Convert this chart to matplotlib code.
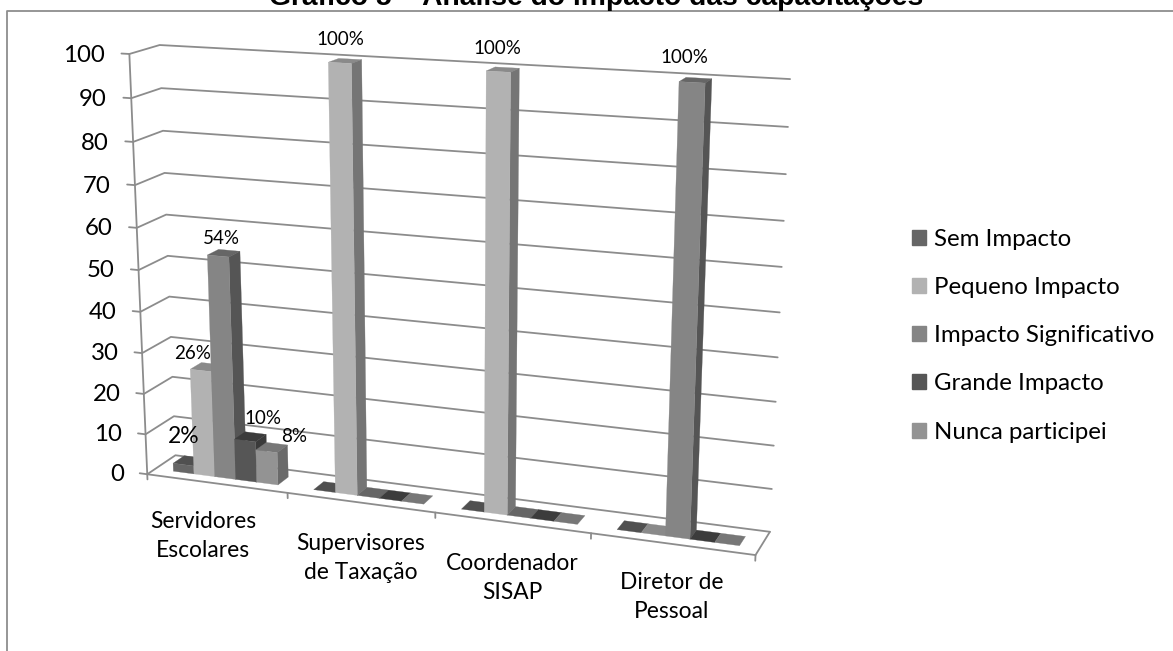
"""
Grafico 3D de colunas (Analise do impacto das capacitacoes).
The 3D axes use a camera matrix solved from the box corners of the reference.
"""

import numpy as np
import matplotlib
matplotlib.use('Agg')
import matplotlib.pyplot as plt
from matplotlib.patches import Patch
from matplotlib.lines import Line2D
from mpl_toolkits.mplot3d.art3d import Poly3DCollection

W, H = 1173, 651

# Data
categories = ['Servidores\nEscolares', 'Supervisores\nde Taxação', 'Coordenador\nSISAP', 'Diretor de\nPessoal']
series_names = ['Sem Impacto', 'Pequeno Impacto', 'Impacto Significativo', 'Grande Impacto', 'Nunca participei']
sem_impacto = [2, 0, 0, 0]
pequeno_impacto = [26, 100, 100, 0]
impacto_significativo = [54, 0, 0, 100]
grande_impacto = [10, 0, 0, 0]
nunca_participei = [8, 0, 0, 0]
series_values = [sem_impacto, pequeno_impacto, impacto_significativo, grande_impacto, nunca_participei]
y_ticks = list(range(0, 101, 10))

# Styles
front_colors = ['#666666', '#b2b2b2', '#858585', '#565656', '#939393']
side_colors = ['#555555', '#757575', '#555555', '#3a3a3a', '#6a6a6a']
top_colors = ['#505050', '#8a8a8a', '#666666', '#3c3c3c', '#777777']
line_color = '#8c8c8c'
font = ['Lato', 'DejaVu Sans']

# box corner (category pos, depth, value) -> pixel in the reference
camera_points = [
    ((0, 0, 0), (148, 473)),
    ((1, 0, 0), (287, 493)),
    ((2, 0, 0), (435, 513)),
    ((3, 0, 0), (592, 534)),
    ((4, 0, 0), (755, 555)),
    ((4, 1, 0), (770, 531)),
    ((0, 1, 0), (175, 456)),
    ((0, 0, 100), (129, 54)),
    ((0, 1, 100), (160, 45)),
    ((4, 1, 100), (790, 79)),
    ((4, 1, 90), (788, 127)),
]

# label offset from the top of its bar, in pixels
label_offsets = {
    (0, 0): (-5, -24, 16.5),
    (1, 0): (-13, -13, 13.5),
    (2, 0): (-2, -14, 13.5),
    (3, 0): (13, -18, 13.5),
    (4, 0): (23, -10, 13.5),
    (1, 1): (-4, -21, 13.5),
    (1, 2): (-5, -21, 13.5),
    (2, 3): (-11, -22, 13.5),
}
cat_label_centers = [(203, 536), (361, 558), (512, 578), (672, 597)]

gap, bar_w = 0.125, 0.15
depth0, depth1 = 0.3, 0.7


def solve_camera(points):
    rows = []
    for (x, y, z), (u, v) in points:
        rows.append([x, y, z, 1, 0, 0, 0, 0, -u * x, -u * y, -u * z, -u])
        rows.append([0, 0, 0, 0, x, y, z, 1, -v * x, -v * y, -v * z, -v])
    return np.linalg.svd(np.array(rows, dtype=float))[2][-1].reshape(3, 4)


def to_pixel(cam, x, y, z):
    u, v, w = cam @ np.array([x, y, z, 1.0])
    return u / w, v / w


def fig_text(x, y, s, **kw):
    return fig.text(x / W, 1 - y / H, s, **kw)


cam = solve_camera(camera_points)

fig = plt.figure(figsize=(W / 100, H / 100), dpi=100, facecolor='white')
ax = fig.add_axes([0, 0, 1, 1], projection='3d')
ax.set_axis_off()
ax.computed_zorder = False

# pixel -> default 2D view of the 3d axes
x0, y0, x1, y1 = ax.viewLim.extents
view = np.array([[(x1 - x0) / W, 0, x0], [0, -(y1 - y0) / H, y1], [0, 0, 1]])
P = view @ cam
M = np.vstack([P[0], P[1], [0, 0, 0, 1], P[2]])
ax.get_proj = lambda: M
ax.apply_aspect = lambda position=None: None


def line3(xs, ys, zs, z=1):
    ax.plot(xs, ys, zs, color=line_color, lw=1.3, zorder=z, solid_capstyle='round')


# walls and floor
for v in y_ticks:
    line3([-0.055, 0, 0, 4], [0, 0, 1, 1], [v, v, v, v])
    px, py = to_pixel(cam, -0.17, 0, v)
    fig_text(px, py + 3, str(v), ha='right', va='center', fontsize=17.3, family=font, color='black')
line3([0, 0], [0, 0], [0, 100])
line3([0, 4, 4], [0, 0, 1], [0, 0, 0])
for k in range(len(categories) + 1):
    line3([k, k], [0, 0], [0, -1.3])

# bars, left to right
order = 2
for k in range(len(categories)):
    for s, values in enumerate(series_values):
        v = values[k]
        xa = k + gap + s * bar_w
        xb = xa + bar_w
        faces = [([(xa, depth0, v), (xb, depth0, v), (xb, depth1, v), (xa, depth1, v)], top_colors[s])]
        if v > 0:
            faces.append(([(xb, depth0, 0), (xb, depth1, 0), (xb, depth1, v), (xb, depth0, v)], side_colors[s]))
            faces.append(([(xa, depth0, 0), (xb, depth0, 0), (xb, depth0, v), (xa, depth0, v)], front_colors[s]))
        for verts, color in faces:
            poly = Poly3DCollection([verts], facecolors=color, edgecolors=color, linewidths=0.2, zorder=order)
            ax.add_collection3d(poly)
            order += 0.01

# data labels
for (s, k), (dx, dy, size) in label_offsets.items():
    v = series_values[s][k]
    px, py = to_pixel(cam, k + gap + (s + 0.5) * bar_w, 0.5, v)
    fig_text(px + dx, py + dy, f'{v}%', ha='center', va='center', fontsize=size, family=font, color='black')

# category labels
for name, (px, py) in zip(categories, cat_label_centers):
    fig_text(px, py, name, ha='center', va='center', fontsize=16.4, family=font, color='black', linespacing=1.42)

# legend
handles = [Patch(facecolor=c, edgecolor=c, label=n) for c, n in zip(front_colors, series_names)]
fig.legend(handles=handles, loc='upper left', bbox_to_anchor=(912 / W, 1 - 229 / H), frameon=False,
           prop={'family': font, 'size': 17.3}, handlelength=0.58, handleheight=0.58, handletextpad=0.34,
           labelspacing=1.13, borderpad=0, borderaxespad=0)

# chart frame, cut by the picture on the right and bottom
fig.add_artist(Line2D([6.5 / W, 6.5 / W, 1], [0, 1 - 10.5 / H, 1 - 10.5 / H], transform=fig.transFigure,
                      color='#8e8e8e', lw=1.3))

# title, cut off by the top of the picture
fig_text(596, 5, 'Gráfico 5 – Análise do impacto das capacitações', ha='center', va='baseline',
         fontsize=20.3, fontweight='bold', family='Liberation Sans', color='black')

fig.savefig('out.png', dpi=100)
